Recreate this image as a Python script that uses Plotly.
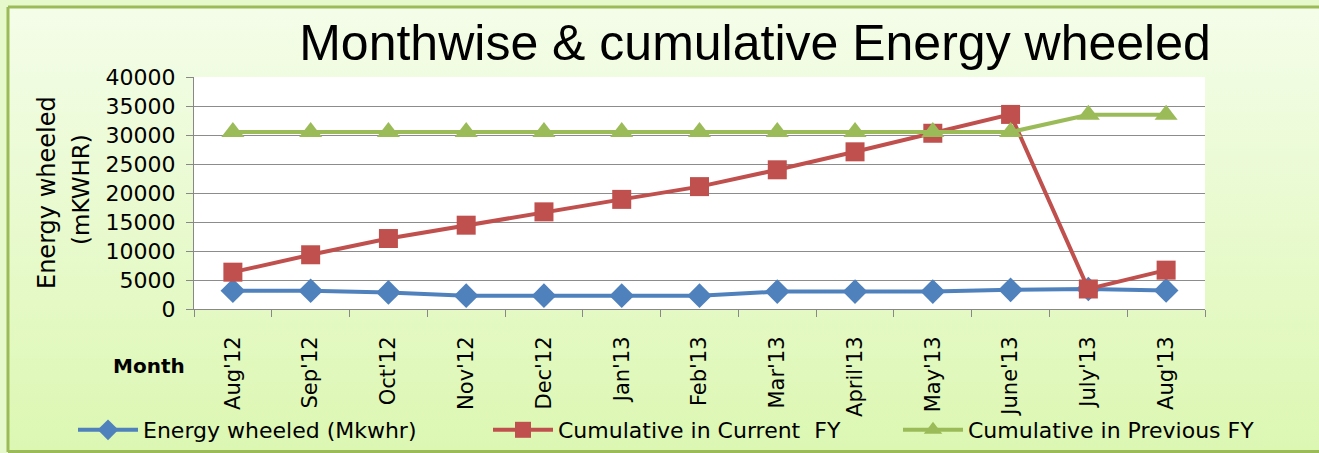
import base64
import plotly.graph_objects as go

# data
months = ["Aug'12", "Sep'12", "Oct'12", "Nov'12", "Dec'12", "Jan'13", "Feb'13",
          "Mar'13", "April'13", "May'13", "June'13", "July'13", "Aug'13"]
energy_wheeled = [3150, 3150, 2850, 2300, 2300, 2300, 2300, 3000, 3000, 3000, 3300, 3450, 3200]
cum_current = [6350, 9350, 12150, 14450, 16750, 18900, 21100, 24000, 27100, 30300, 33550, 3450, 6700]
cum_previous = [30500, 30500, 30500, 30500, 30500, 30500, 30500, 30500, 30500, 30500, 30500, 33500, 33500]

W, H = 1319, 453
ML, MR, MT, MB = 194, 114, 77, 144
pw, ph = W - ML - MR, H - MT - MB


def px(x):
    return (x - ML) / pw


def py(y):
    return (H - MB - y) / ph


FONT = "DejaVu Sans, Verdana, sans-serif"
BORDER = dict(color="#9bbb59", width=3)

# gradient backdrop for the chart frame
svg = ('<svg xmlns="http://www.w3.org/2000/svg" width="100" height="100" preserveAspectRatio="none">'
       '<defs><linearGradient id="g" x1="0" y1="0" x2="0" y2="1">'
       '<stop offset="0" stop-color="#f4fde9"/><stop offset="1" stop-color="#dcf7b2"/>'
       '</linearGradient></defs><rect width="100" height="100" fill="url(#g)"/></svg>')
bg_src = "data:image/svg+xml;base64," + base64.b64encode(svg.encode()).decode()

fig = go.Figure()
fig.add_trace(go.Scatter(x=months, y=energy_wheeled, name="Energy wheeled (Mkwhr)",
                         mode="lines+markers", line=dict(color="#4f81bd", width=4),
                         marker=dict(symbol="diamond", size=19, color="#4f81bd"),
                         legend="legend"))
fig.add_trace(go.Scatter(x=months, y=cum_current, name="Cumulative in Current  FY",
                         mode="lines+markers", line=dict(color="#c0504d", width=4),
                         marker=dict(symbol="square", size=19, color="#c0504d"),
                         legend="legend2"))
fig.add_trace(go.Scatter(x=months, y=cum_previous, name="Cumulative in Previous FY",
                         mode="lines+markers", line=dict(color="#9bbb59", width=4),
                         marker=dict(symbol="triangle-up", size=20, color="#9bbb59"),
                         legend="legend3"))

leg = dict(orientation="h", xanchor="left", y=py(430), yanchor="middle",
           font=dict(size=22), bgcolor="rgba(0,0,0,0)", itemwidth=60)

fig.update_layout(
    width=W, height=H,
    margin=dict(l=ML, r=MR, t=MT, b=MB, autoexpand=False),
    paper_bgcolor="#e6f9cc", plot_bgcolor="white",
    font=dict(family=FONT, color="black"),
    title=dict(text="Monthwise & cumulative Energy wheeled",
               font=dict(family="Liberation Sans Narrow, Arial Narrow, sans-serif", size=50),
               x=755 / W, xanchor="center", y=1 - 42 / H, yanchor="middle"),
    showlegend=True,
    legend=dict(leg, x=px(73)),
    legend2=dict(leg, x=px(488)),
    legend3=dict(leg, x=px(898)),
    images=[dict(source=bg_src, xref="paper", yref="paper", x=px(8), y=py(7),
                 sizex=px(W + 200) - px(8), sizey=py(7) - py(452),
                 sizing="stretch", xanchor="left", yanchor="top", layer="below")],
    shapes=[
        dict(type="rect", xref="paper", yref="paper", x0=0, x1=1, y0=0, y1=1,
             fillcolor="white", line=dict(width=0), layer="below"),
        # frame: top, left and bottom edges (right edge runs off the picture)
        dict(type="line", xref="paper", yref="paper", x0=px(8), x1=px(W + 50), y0=py(7), y1=py(7),
             line=BORDER),
        dict(type="line", xref="paper", yref="paper", x0=px(8), x1=px(8), y0=py(7), y1=py(452),
             line=BORDER),
        dict(type="line", xref="paper", yref="paper", x0=px(8), x1=px(W + 50), y0=py(451.5), y1=py(451.5),
             line=BORDER),
    ],
    annotations=[
        dict(text="Energy wheeled", textangle=-90, x=px(47), y=py(193), xref="paper", yref="paper",
             xanchor="center", yanchor="middle", showarrow=False, font=dict(size=24)),
        dict(text="(mKWHR)", textangle=-90, x=px(81), y=py(190), xref="paper", yref="paper",
             xanchor="center", yanchor="middle", showarrow=False, font=dict(size=23)),
        dict(text="<b>Month</b>", x=px(149), y=py(366), xref="paper", yref="paper",
             xanchor="center", yanchor="middle", showarrow=False, font=dict(size=20)),
    ],
)

fig.update_xaxes(type="category", range=[-0.5, len(months) - 0.5], tickangle=-90,
                 tickfont=dict(size=21),
                 showgrid=False, showline=True, linecolor="#888888", linewidth=1,
                 ticks="outside", tickson="boundaries", ticklen=7, tickcolor="#888888",
                 ticklabelstandoff=18)
fig.update_yaxes(range=[0, 40000], dtick=5000, tickformat="d", tickfont=dict(size=22),
                 showgrid=True, gridcolor="#8c8c8c", gridwidth=1,
                 showline=True, linecolor="#888888", linewidth=1,
                 ticks="outside", ticklen=7, tickcolor="#888888", zeroline=False,
                 ticklabelstandoff=6)

fig.write_html("out.html", config={"displayModeBar": False},
               post_script="document.body.style.margin='0';")
